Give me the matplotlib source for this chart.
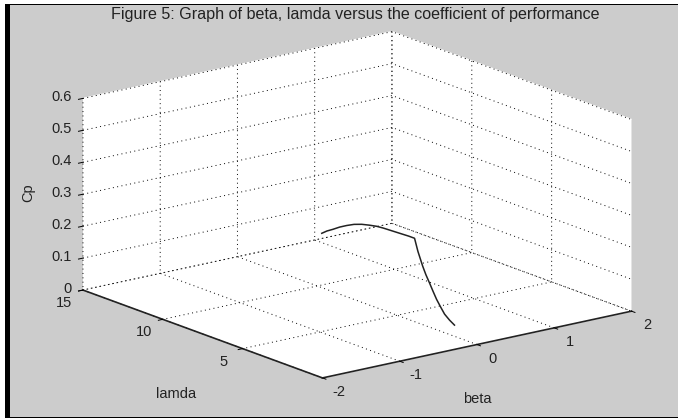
import matplotlib
matplotlib.use('Agg')
import matplotlib.pyplot as plt
from matplotlib.patches import Rectangle
from mpl_toolkits.mplot3d import proj3d

plt.rcParams['font.family'] = ['Liberation Sans', 'DejaVu Sans']

beta_ticks = [-2, -1, 0, 1, 2]
beta_labels = ['-2', '-1', '0', '1', '2']
lamda_ticks = [5, 10, 15]
lamda_labels = ['5', '10', '15']
cp_ticks = [0, 0.1, 0.2, 0.3, 0.4, 0.5, 0.6]
cp_labels = ['0', '0.1', '0.2', '0.3', '0.4', '0.5', '0.6']

# beta stays at 0
lamda = [9.72, 9.40, 9.03, 8.60, 8.16, 7.70, 7.22, 6.75, 6.28, 5.87, 5.47, 5.06, 4.66, 4.28, 3.91,
         3.70, 3.40, 3.20, 2.97, 2.75, 2.53, 2.28, 2.03, 1.72, 1.41]
beta = [0] * len(lamda)
cp = [0.170, 0.183, 0.195, 0.210, 0.223, 0.235, 0.244, 0.250, 0.255, 0.257, 0.258, 0.259, 0.260, 0.261, 0.261,
      0.224, 0.183, 0.160, 0.138, 0.116, 0.095, 0.076, 0.058, 0.045, 0.035]

W, H = 678, 418
GREY = '#cccccc'
TEXT = '#222222'
FS = 10.5

fig = plt.figure(figsize=(W / 100, H / 100), dpi=100, facecolor='white')


def px(x, y):
    return x / W, 1 - y / H


# window background and black frame
fig.patches.append(Rectangle(px(5, 417), 673 / W, 413 / H, transform=fig.transFigure,
                             facecolor=GREY, edgecolor='none', zorder=-3))
fig.patches.append(Rectangle(px(5, 418), 5 / W, 414 / H, transform=fig.transFigure,
                             facecolor='black', edgecolor='none', zorder=-2))
fig.patches.append(Rectangle(px(5, 5), 673 / W, 1.5 / H, transform=fig.transFigure,
                             facecolor='black', edgecolor='none', zorder=-2))
fig.patches.append(Rectangle(px(5, 418), 673 / W, 1.2 / H, transform=fig.transFigure,
                             facecolor='black', edgecolor='none', zorder=-2))

ax = fig.add_axes([0, 0, 1, 1], projection='3d', proj_type='ortho')
ax.patch.set_alpha(0)
ax.view_init(elev=16.35, azim=-127.5)
ax.set_box_aspect((390, 394, 200), zoom=1.0)

ax.plot(beta, lamda, cp, color='#222222', lw=1.1)

ax.set_xlim(-2, 2)
ax.set_ylim(0, 15)
ax.set_zlim(0, 0.6)
ax.set_xticks(beta_ticks)
ax.set_yticks(lamda_ticks)
ax.set_zticks(cp_ticks)
ax.set_xticklabels([])
ax.set_yticklabels([])
ax.set_zticklabels([])

for axis in (ax.xaxis, ax.yaxis, ax.zaxis):
    axis.set_pane_color('white')
    axis.pane.set_edgecolor('white')
    axis._axinfo['grid'].update(color='black', linewidth=0.7, linestyle=(0, (1, 3.5)))
    axis._axinfo['tick'].update(inward_factor=0.18, outward_factor=0.0, linewidth={True: 0.7, False: 0.7})
    axis.line.set_color('#222222')
    axis.line.set_linewidth(1.2)
ax.zaxis.line.set_visible(False)

# size the square axes so that the box corners land where they are in the picture
CX, CY = 349.5, 212.5
side = 600.0
for i in range(3):
    ax.set_position([(CX - side / 2) / W, 1 - (CY + side / 2) / H, side / W, side / H])
    xa, ya, _ = proj3d.proj_transform(-2, 0, 0, ax.get_proj())
    xb, yb, _ = proj3d.proj_transform(2, 0, 0, ax.get_proj())
    pa = ax.transData.transform((xa, ya))
    pb = ax.transData.transform((xb, yb))
    side *= 309 / (pb[0] - pa[0])

ax.set_position([(CX - side / 2) / W, 1 - (CY + side / 2) / H, side / W, side / H])


def tick_text(x, y, z, label, dx, dy, ha='center'):
    # tick labels sit at a fixed pixel offset from the projected tick
    xp, yp, _ = proj3d.proj_transform(x, y, z, ax.get_proj())
    p = ax.transData.transform((xp, yp))
    fig.text((p[0] + dx) / W, (p[1] - dy) / H, label, ha=ha, va='center', fontsize=FS, color=TEXT)


for v, s in zip(beta_ticks, beta_labels):
    tick_text(v, 0, 0, s, 16, 14)
for v, s in zip(lamda_ticks, lamda_labels):
    tick_text(-2, v, 0, s, -19, 13)
for v, s in zip(cp_ticks, cp_labels):
    tick_text(-2, 15, v, s, -11, -1, ha='right')

fig.text(*px(355, 15), 'Figure 5: Graph of beta, lamda versus the coefficient of performance',
         ha='center', va='center', fontsize=11.6, color=TEXT)
fig.text(*px(477, 399), 'beta', ha='center', va='center', fontsize=FS, color=TEXT)
fig.text(*px(176, 394), 'lamda', ha='center', va='center', fontsize=FS, color=TEXT)
fig.text(*px(28, 193), 'Cp', ha='center', va='center', rotation=90, fontsize=FS, color=TEXT)

fig.savefig('out.png', dpi=100, facecolor=fig.get_facecolor())
